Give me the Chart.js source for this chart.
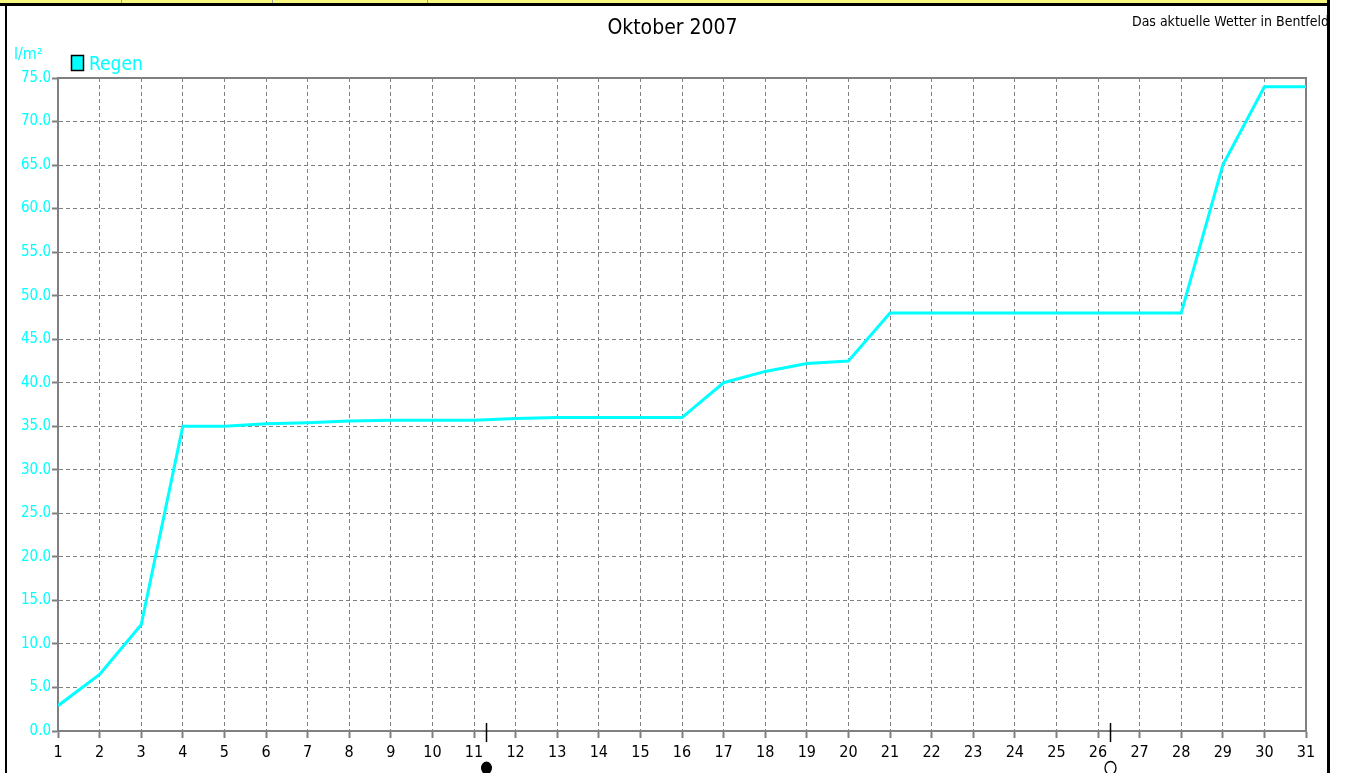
<!DOCTYPE html>
<html>
<head>
<meta charset="utf-8">
<script src="https://cdn.jsdelivr.net/npm/chart.js@4/dist/chart.umd.min.js"></script>
<style>
html,body{margin:0;padding:0;background:#fff;}
#wrap{position:relative;width:1345px;height:773px;}
canvas{display:block;}
</style>
</head>
<body>
<div id="wrap"><canvas id="c" width="1345" height="773"></canvas></div>
<script>
const FONT = "'Liberation Sans Narrow', 'DejaVu Sans Condensed', 'Liberation Sans', Arial, sans-serif";
const titleText = "Oktober 2007";
const subtitleText = "Das aktuelle Wetter in Bentfeld";
const unitText = "l/m²";
const seriesName = "Regen";
const days = [1,2,3,4,5,6,7,8,9,10,11,12,13,14,15,16,17,18,19,20,21,22,23,24,25,26,27,28,29,30,31];
const rain = [2.9,6.5,12.2,35.0,35.0,35.3,35.4,35.6,35.7,35.7,35.7,35.9,36.0,36.0,36.0,36.0,40.0,41.3,42.2,42.5,48.0,48.0,48.0,48.0,48.0,48.0,48.0,48.0,65.0,74.0,74.0];
const moonDays = [11.3, 26.3];
const moonTypes = ["new", "full"];
const CYAN = "#00FFFF";
const GRAY = "#808080";

const framePlugin = {
  id: 'frame',
  beforeDraw(chart) {
    const ctx = chart.ctx;
    ctx.save();
    ctx.fillStyle = '#ffffff';
    ctx.fillRect(0, 0, chart.width, chart.height);
    ctx.fillStyle = '#F8F880';
    ctx.fillRect(0, 0, 1328, 3);
    ctx.fillStyle = '#a0a0a0';
    [121, 272, 427].forEach(x => ctx.fillRect(x, 0, 1, 3));
    ctx.fillStyle = '#000';
    ctx.fillRect(0, 3, 1330, 3);
    ctx.fillRect(5, 3, 2, chart.height - 3);
    ctx.fillRect(1327, 0, 3, chart.height);
    ctx.restore();
  },
  beforeDatasetsDraw(chart) {
    const ctx = chart.ctx, a = chart.chartArea;
    ctx.save();
    ctx.strokeStyle = GRAY;
    ctx.lineWidth = 2;
    ctx.beginPath();
    ctx.moveTo(a.left, a.top);
    ctx.lineTo(a.right, a.top);
    ctx.lineTo(a.right, a.bottom);
    ctx.stroke();
    ctx.restore();
  },
  afterDraw(chart) {
    const ctx = chart.ctx, a = chart.chartArea;
    const xs = chart.scales.x;
    ctx.save();
    ctx.fillStyle = '#000';
    ctx.font = "14px " + FONT;
    ctx.textAlign = 'right';
    ctx.textBaseline = 'middle';
    ctx.fillText(subtitleText, 1329, 22);
    ctx.fillStyle = CYAN;
    ctx.font = "16px " + FONT;
    ctx.textAlign = 'left';
    ctx.fillText(unitText, 14, 55);
    ctx.fillStyle = CYAN;
    ctx.fillRect(71.5, 55.5, 12, 15);
    ctx.strokeStyle = '#000';
    ctx.lineWidth = 1.5;
    ctx.strokeRect(71.5, 55.5, 12, 15);
    ctx.fillStyle = CYAN;
    ctx.font = "19px " + FONT;
    ctx.fillText(seriesName, 89, 65);
    moonDays.forEach((d, i) => {
      const x = Math.round(xs.getPixelForValue(d)) + 0.5;
      ctx.strokeStyle = '#000';
      ctx.lineWidth = 1.5;
      ctx.beginPath();
      ctx.moveTo(x, a.bottom - 8);
      ctx.lineTo(x, a.bottom + 11);
      ctx.stroke();
      ctx.beginPath();
      ctx.ellipse(x, a.bottom + 37, 5.5, 6.5, 0, 0, Math.PI * 2);
      if (moonTypes[i] === 'new') { ctx.fillStyle = '#000'; ctx.fill(); }
      else { ctx.lineWidth = 1.3; ctx.stroke(); }
    });
    ctx.restore();
  }
};

new Chart(document.getElementById('c'), {
  type: 'line',
  data: {
    labels: days,
    datasets: [{
      label: seriesName,
      data: days.map((d, i) => ({x: d, y: rain[i]})),
      borderColor: CYAN,
      backgroundColor: CYAN,
      borderWidth: 3,
      pointRadius: 0,
      tension: 0,
      fill: false,
      yAxisID: 'y'
    }]
  },
  options: {
    responsive: false,
    animation: false,
    devicePixelRatio: 1,
    layout: { padding: { left: 0, right: 0, top: 6, bottom: 0 } },
    plugins: {
      legend: { display: false },
      tooltip: { enabled: false },
      title: {
        display: true,
        text: titleText,
        color: '#000',
        font: { family: FONT, size: 21, weight: 'normal', lineHeight: 1.2 },
        padding: { top: 10, bottom: 36.8 }
      }
    },
    scales: {
      x: {
        type: 'linear',
        min: 1, max: 31,
        afterFit(s) { s.height = 42; },
        ticks: { stepSize: 1, color: '#000', font: { family: FONT, size: 16 }, padding: 5, autoSkip: false, maxRotation: 0 },
        grid: { color: GRAY, lineWidth: 1, tickLength: 7, tickColor: GRAY, tickWidth: 2, drawOnChartArea: true },
        border: { color: GRAY, width: 2, dash: [4, 3] }
      },
      y: {
        min: 0, max: 75,
        afterFit(s) { s.width = 58; },
        ticks: { stepSize: 5, color: CYAN, font: { family: FONT, size: 15 }, padding: 1, callback: v => v.toFixed(1) },
        grid: { color: GRAY, lineWidth: 1, tickLength: 6, tickColor: GRAY, tickWidth: 2 },
        border: { color: GRAY, width: 2, dash: [4, 3] }
      },
      yr: {
        position: 'right',
        min: 0, max: 1,
        afterFit(s) { s.width = 39; },
        ticks: { display: false },
        grid: { display: false, drawOnChartArea: false },
        border: { display: false }
      }
    }
  },
  plugins: [framePlugin]
});
</script>
</body>
</html>
